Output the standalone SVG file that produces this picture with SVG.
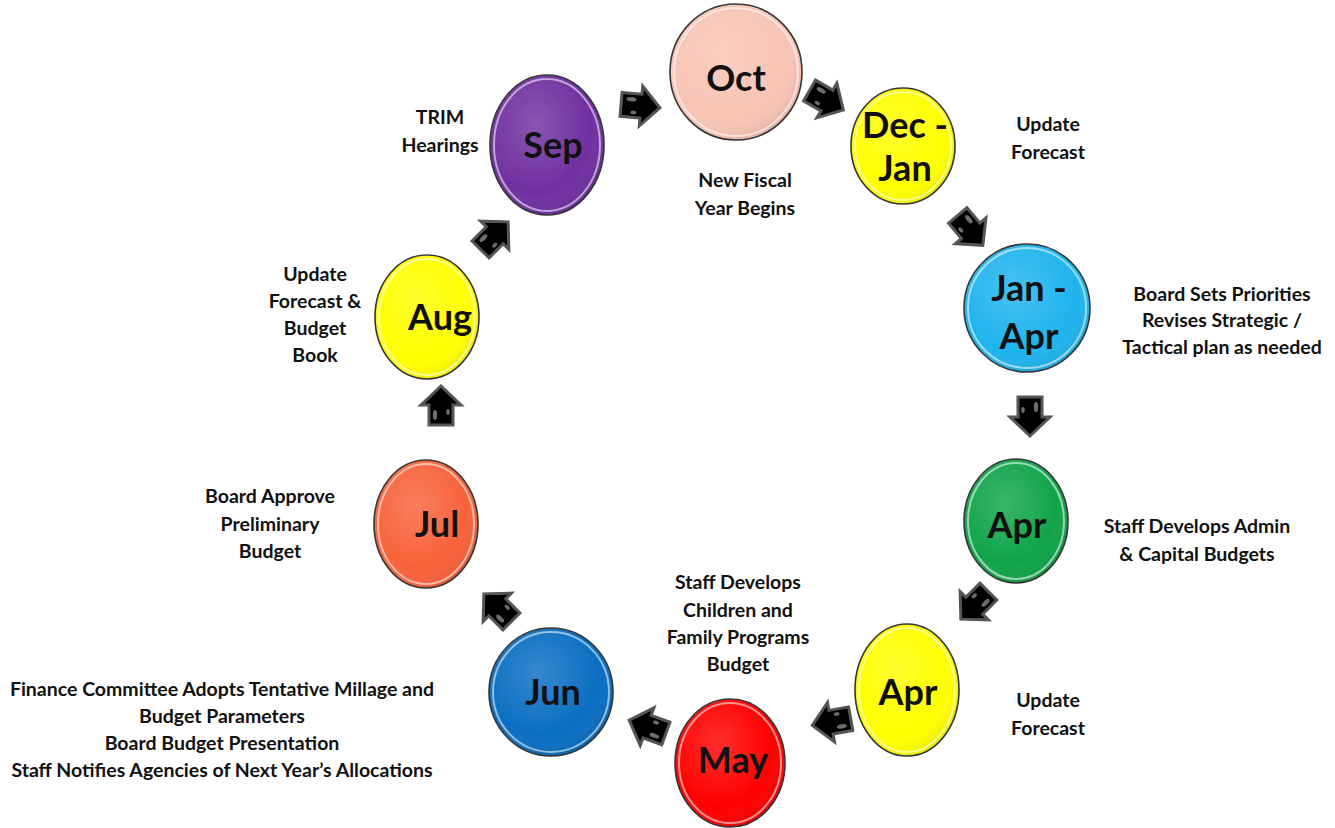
<svg xmlns="http://www.w3.org/2000/svg" width="1335" height="828" viewBox="0 0 1335 828">
<style>
.c{stroke:#333;stroke-width:1.6}
.hl{fill:url(#gloss)}
.rim{fill:none;stroke:#fff;stroke-opacity:.55;stroke-width:2}
.m{font-family:Lato,"Open Sans",sans-serif;font-weight:bold;font-size:36px;fill:#111;text-anchor:middle}
.t{font-family:Lato,"Open Sans",sans-serif;font-weight:bold;font-size:19.5px;fill:#111;text-anchor:middle}
.ar{fill:#000;stroke:#555;stroke-width:3;stroke-linejoin:miter}
.arh{fill:#888;opacity:.8}
</style>
<defs>
<radialGradient id="gloss" cx="0.4" cy="0.35" r="0.7">
<stop offset="0" stop-color="#fff" stop-opacity=".18"/>
<stop offset="0.7" stop-color="#fff" stop-opacity="0"/>
<stop offset="1" stop-color="#000" stop-opacity=".12"/>
</radialGradient>
<g id="arrow">
<path class="ar" d="M-19,-12 L1,-12 L1,-20 L20,0 L1,20 L1,12 L-19,12 Z"/>
<ellipse class="arh" cx="-9" cy="-6" rx="5" ry="2.2"/>
<ellipse class="arh" cx="-6" cy="7" rx="3" ry="1.8"/>
</g>
</defs>
<rect width="1335" height="828" fill="#fff"/>

<g id="connectors">
<use href="#arrow" transform="translate(640,106) rotate(5)"/>
<use href="#arrow" transform="translate(826,100) rotate(30)"/>
<use href="#arrow" transform="translate(970,230) rotate(50)"/>
<use href="#arrow" transform="translate(1030,416) rotate(90)"/>
<use href="#arrow" transform="translate(975,605) rotate(135)"/>
<use href="#arrow" transform="translate(832,722) rotate(170)"/>
<use href="#arrow" transform="translate(648,727) rotate(200)"/>
<use href="#arrow" transform="translate(498,608) rotate(225)"/>
<use href="#arrow" transform="translate(441,406) rotate(-90)"/>
<use href="#arrow" transform="translate(494,236) rotate(-45)"/>
</g>

<g id="oct">
<ellipse class="c" cx="736" cy="72" rx="66" ry="68" fill="#F8C4B4"/>
<ellipse class="hl" cx="736" cy="72" rx="66" ry="68"/>
<ellipse class="rim" cx="736" cy="72" rx="62" ry="64"/>
<text class="m" x="736" y="91">Oct</text>
<text class="t" x="745" y="187">New Fiscal</text>
<text class="t" x="745" y="215">Year Begins</text>
</g>

<g id="decjan">
<ellipse class="c" cx="903" cy="146" rx="52" ry="58" fill="#FFFF00"/>
<ellipse class="hl" cx="903" cy="146" rx="52" ry="58"/>
<ellipse class="rim" cx="903" cy="146" rx="48" ry="54"/>
<text class="m" x="905" y="138">Dec -</text>
<text class="m" x="905" y="181">Jan</text>
<text class="t" x="1048" y="131">Update</text>
<text class="t" x="1048" y="159">Forecast</text>
</g>

<g id="janapr">
<ellipse class="c" cx="1027" cy="308" rx="63" ry="64" fill="#1FB4EE"/>
<ellipse class="hl" cx="1027" cy="308" rx="63" ry="64"/>
<ellipse class="rim" cx="1027" cy="308" rx="59" ry="60"/>
<text class="m" x="1029" y="301">Jan -</text>
<text class="m" x="1029" y="349">Apr</text>
<text class="t" x="1222" y="301">Board Sets Priorities</text>
<text class="t" x="1222" y="327">Revises Strategic /</text>
<text class="t" x="1222" y="354">Tactical plan as needed</text>
</g>

<g id="apr1">
<ellipse class="c" cx="1016" cy="521" rx="52" ry="62" fill="#10A44A"/>
<ellipse class="hl" cx="1016" cy="521" rx="52" ry="62"/>
<ellipse class="rim" cx="1016" cy="521" rx="48" ry="58"/>
<text class="m" x="1017" y="538">Apr</text>
<text class="t" x="1197" y="533">Staff Develops Admin</text>
<text class="t" x="1197" y="561">&amp; Capital Budgets</text>
</g>

<g id="apr2">
<ellipse class="c" cx="907" cy="690" rx="52" ry="66" fill="#FFFF00"/>
<ellipse class="hl" cx="907" cy="690" rx="52" ry="66"/>
<ellipse class="rim" cx="907" cy="690" rx="48" ry="62"/>
<text class="m" x="908" y="705">Apr</text>
<text class="t" x="1048" y="707">Update</text>
<text class="t" x="1048" y="735">Forecast</text>
</g>

<g id="may">
<ellipse class="c" cx="730" cy="763" rx="55" ry="64" fill="#FF0000"/>
<ellipse class="hl" cx="730" cy="763" rx="55" ry="64"/>
<ellipse class="rim" cx="730" cy="763" rx="51" ry="60"/>
<text class="m" x="733" y="773">May</text>
<text class="t" x="738" y="589">Staff Develops</text>
<text class="t" x="738" y="617">Children and</text>
<text class="t" x="738" y="644">Family Programs</text>
<text class="t" x="738" y="671">Budget</text>
</g>

<g id="jun">
<ellipse class="c" cx="551" cy="692" rx="62" ry="64" fill="#0A6EC2"/>
<ellipse class="hl" cx="551" cy="692" rx="62" ry="64"/>
<ellipse class="rim" cx="551" cy="692" rx="58" ry="60"/>
<text class="m" x="553" y="705">Jun</text>
<text class="t" x="222" y="696">Finance Committee Adopts Tentative Millage and</text>
<text class="t" x="222" y="723">Budget Parameters</text>
<text class="t" x="222" y="750">Board Budget Presentation</text>
<text class="t" x="222" y="777">Staff Notifies Agencies of Next Year’s Allocations</text>
</g>

<g id="jul">
<ellipse class="c" cx="426" cy="524" rx="52" ry="64" fill="#F8623A"/>
<ellipse class="hl" cx="426" cy="524" rx="52" ry="64"/>
<ellipse class="rim" cx="426" cy="524" rx="48" ry="60"/>
<text class="m" x="437" y="537">Jul</text>
<text class="t" x="270" y="503">Board Approve</text>
<text class="t" x="270" y="531">Preliminary</text>
<text class="t" x="270" y="558">Budget</text>
</g>

<g id="aug">
<ellipse class="c" cx="427" cy="317" rx="52" ry="62" fill="#FFFF00"/>
<ellipse class="hl" cx="427" cy="317" rx="52" ry="62"/>
<ellipse class="rim" cx="427" cy="317" rx="48" ry="58"/>
<text class="m" x="440" y="330">Aug</text>
<text class="t" x="315" y="281">Update</text>
<text class="t" x="315" y="308">Forecast &amp;</text>
<text class="t" x="315" y="335">Budget</text>
<text class="t" x="315" y="362">Book</text>
</g>

<g id="sep">
<ellipse class="c" cx="547" cy="145" rx="57" ry="70" fill="#7030A0"/>
<ellipse class="hl" cx="547" cy="145" rx="57" ry="70"/>
<ellipse class="rim" cx="547" cy="145" rx="53" ry="66"/>
<text class="m" x="553" y="158">Sep</text>
<text class="t" x="440" y="124">TRIM</text>
<text class="t" x="440" y="152">Hearings</text>
</g>
</svg>
